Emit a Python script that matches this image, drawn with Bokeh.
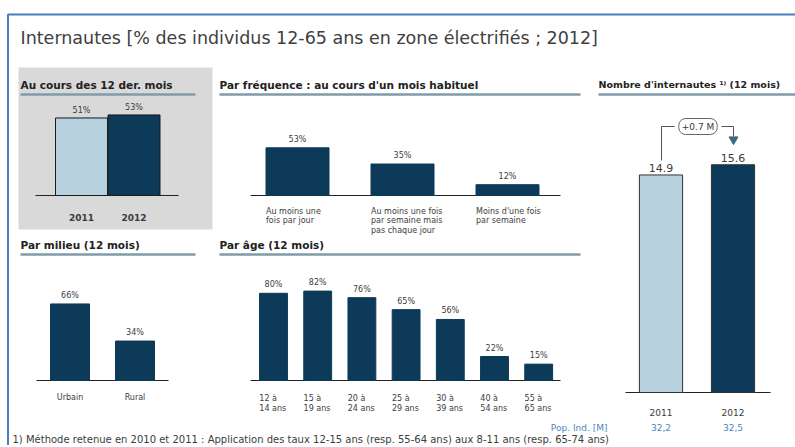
from bokeh.plotting import figure
from bokeh.models import Range1d, Label
from bokeh.embed import file_html
from bokeh.resources import INLINE
from bokeh.core.properties import value

# ---------------- data ----------------
title_text = "Internautes [% des individus 12-65 ans en zone électrifiés ; 2012]"

months_header = "Au cours des 12 der. mois"
months_years = ["2011", "2012"]
months_pct = [51, 53]

freq_header = "Par fréquence : au cours d'un mois habituel"
freq_labels = ["Au moins une\nfois par jour",
               "Au moins une fois\npar semaine  mais\npas chaque  jour",
               "Moins d'une fois\npar semaine"]
freq_pct = [53, 35, 12]

milieu_header = "Par milieu (12 mois)"
milieu_labels = ["Urbain", "Rural"]
milieu_pct = [66, 34]

age_header = "Par âge (12 mois)"
age_labels = ["12 à\n14 ans", "15 à\n19 ans", "20 à\n24 ans", "25 à\n29 ans",
              "30 à\n39 ans", "40 à\n54 ans", "55 à\n65 ans"]
age_pct = [80, 82, 76, 65, 56, 22, 15]

count_header = "Nombre d'internautes ¹⁾ (12 mois)"
count_years = ["2011", "2012"]
count_m = [14.9, 15.6]
count_delta = "+0.7 M"
pop_label = "Pop. Ind. [M]"
pop_m = ["32,2", "32,5"]

footnote = ("1) Méthode retenue en 2010 et 2011 : Application  des taux 12-15 ans "
            "(resp. 55-64 ans) aux 8-11 ans (resp. 65-74 ans)")

# ---------------- style ----------------
FONT = value("DejaVu Sans")
TXT = "#3c3c3c"
DARK = "#0c3a58"
LIGHT = "#b6d0dd"
RULE = "#7f9ba8"
BLUE_TXT = "#4f86c0"

W, H = 795, 445
X0, Y0 = 0, 0

p = figure(width=W, height=H, output_backend="svg", toolbar_location=None,
           x_range=Range1d(X0, X0 + W), y_range=Range1d(Y0 + H, Y0),
           x_axis_location=None, y_axis_location=None, min_border=0)
p.grid.visible = False
p.outline_line_color = None


def panel(name, c0, dx, base, k):
    s = -(c0 - X0) / dx
    p.extra_x_ranges[name + "x"] = Range1d(s, s + W / dx)
    ys = (base - (Y0 + H)) / k
    p.extra_y_ranges[name + "y"] = Range1d(ys, ys + H / k)
    return dict(x_range_name=name + "x", y_range_name=name + "y")


def txt(x, y, t, size, color=TXT, align="left", base="middle", style="normal", **kw):
    p.text(x=x, y=y, text=t, text_font=FONT, text_font_size=size,
           text_color=color, text_align=align, text_baseline=base,
           text_font_style=style, **kw)


# frame
p.line([7.5, 7.5, 805], [460, 14, 14], line_color="#4a7ebb", line_width=2)
txt([20], [37], [title_text], "17.5px", color="#404040")

# grey backdrop
p.quad(left=[18], right=[212], top=[67], bottom=[229], fill_color="#d9d9d9", line_color=None)

# headers and rules
headers = [(months_header, 20, 84, 20, 195, "10.5px"),
           (freq_header, 219, 84, 219, 580, "10.5px"),
           (count_header, 598, 84, 598, 800, "9.5px"),
           (milieu_header, 20, 244, 20, 195, "10.5px"),
           (age_header, 219, 244, 219, 580, "10.5px")]
for h, hx, hy, r0, r1, fs in headers:
    txt([hx], [hy], [h], fs, color="#222222", style="bold")
    p.segment(x0=[r0], y0=[hy + 10], x1=[r1], y1=[hy + 10], line_color=RULE, line_width=2.5)

# ---- panel 1 : 12 months
r = panel("m", 81, 52.5, 195, 1.52)
idx = list(range(len(months_pct)))
p.segment(x0=[35], y0=[195], x1=[178], y1=[195], line_color="#222222", line_width=1.2)
p.vbar(x=idx, top=months_pct, width=0.99, bottom=0, fill_color=[LIGHT, DARK],
       line_color="#1a1a1a", line_width=1, **r)
txt(idx, months_pct, [f"{v}%" for v in months_pct], "8px", align="center", base="bottom",
    y_offset=-3, **r)
txt(idx, [217] * 2, months_years, "9px", align="center", style="bold", x_range_name="mx")

# ---- panel 2 : frequency
r = panel("f", 297, 105, 195, 0.9)
idx = list(range(len(freq_pct)))
p.segment(x0=[250], y0=[195], x1=[560], y1=[195], line_color="#222222", line_width=1.2)
p.vbar(x=idx, top=freq_pct, width=0.6, bottom=0, fill_color=DARK, line_color=DARK, **r)
txt(idx, freq_pct, [f"{v}%" for v in freq_pct], "8px", align="center", base="bottom",
    y_offset=-4, **r)
txt([i - 0.3 for i in idx], [206] * 3, freq_labels, "8px", base="top",
    text_line_height=1.1, x_range_name="fx")

# ---- panel 3 : milieu
r = panel("u", 69.5, 65, 380, 1.16)
idx = list(range(len(milieu_pct)))
p.segment(x0=[36], y0=[380], x1=[168], y1=[380], line_color="#222222", line_width=1.2)
p.vbar(x=idx, top=milieu_pct, width=0.6, bottom=0, fill_color=DARK, line_color=DARK, **r)
txt(idx, milieu_pct, [f"{v}%" for v in milieu_pct], "8px", align="center", base="bottom",
    y_offset=-4, **r)
txt(idx, [397] * 2, milieu_labels, "8px", align="center", x_range_name="ux")

# ---- panel 4 : age
r = panel("a", 273, 44.2, 380, 1.09)
idx = list(range(len(age_pct)))
p.segment(x0=[250], y0=[380], x1=[560], y1=[380], line_color="#222222", line_width=1.2)
p.vbar(x=idx, top=age_pct, width=0.63, bottom=0, fill_color=DARK, line_color=DARK, **r)
txt(idx, age_pct, [f"{v}%" for v in age_pct], "8px", align="center", base="bottom",
    y_offset=-4, **r)
txt([i - 0.32 for i in idx], [393] * 7, age_labels, "8px", base="top",
    text_line_height=1.15, x_range_name="ax")

# ---- panel 5 : number of internet users
r = panel("c", 660.5, 72, 392, 14.6)
idx = list(range(len(count_m)))
p.segment(x0=[625], y0=[392], x1=[770], y1=[392], line_color="#222222", line_width=1.2)
p.vbar(x=idx, top=count_m, width=0.6, bottom=0, fill_color=[LIGHT, DARK],
       line_color="#333333", line_width=1, **r)
txt(idx, count_m, [f"{v:.1f}" for v in count_m], "11px", align="center", base="bottom",
    y_offset=-3, **r)
txt(idx, [412] * 2, count_years, "9px", align="center", x_range_name="cx")
txt(idx, [427] * 2, pop_m, "9px", color=BLUE_TXT, align="center", x_range_name="cx")
txt([607], [427], [pop_label], "9px", color=BLUE_TXT, align="right")

# delta callout
p.line([661, 661, 674], [160, 126, 126], line_color="#555555", line_width=1)
p.line([721, 733, 733], [126, 126, 136], line_color="#555555", line_width=1)
p.scatter(x=[733], y=[139], marker="inverted_triangle", size=9, fill_color="#3b6c86",
          line_color="#3b6c86")
p.add_layout(Label(x=697.5, y=126, text=count_delta, text_align="center",
                   text_baseline="middle", text_font_size="9px", text_font="DejaVu Sans",
                   text_color=TXT, border_line_color="#666666", border_line_width=1,
                   border_radius=7, background_fill_color="white", padding=3))

# footnote
txt([12], [444], [footnote], "10px", base="bottom")

open("out.html", "w").write(file_html(p, INLINE))
